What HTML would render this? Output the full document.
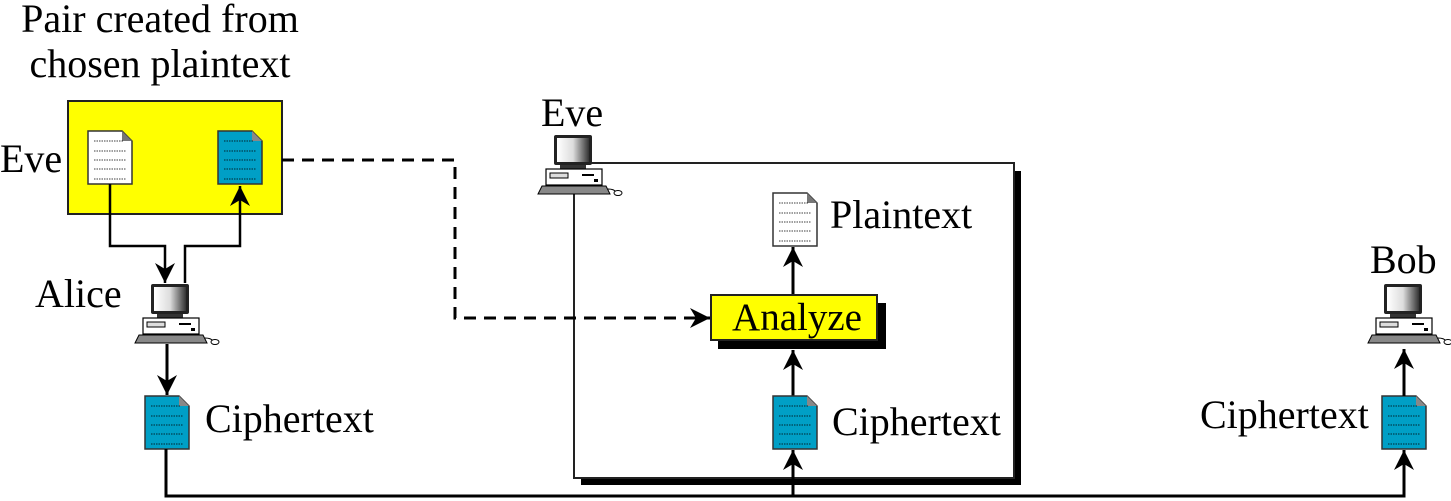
<!DOCTYPE html>
<html><head><meta charset="utf-8"><style>
html,body{margin:0;padding:0;background:#fff;}
svg{display:block;}
text{font-family:"Liberation Serif",serif;font-size:40px;fill:#000;}
</style></head><body>
<svg width="1451" height="501" viewBox="0 0 1451 501" xmlns="http://www.w3.org/2000/svg">
<defs>
<linearGradient id="scr" x1="0" x2="1"><stop offset="0" stop-color="#fff"/><stop offset="0.5" stop-color="#ddd"/><stop offset="1" stop-color="#333"/></linearGradient>
<g id="pc">
  <rect x="16" y="1" width="38" height="30" rx="2" fill="#222"/>
  <rect x="19" y="4" width="32" height="24" fill="url(#scr)"/>
  <rect x="22" y="31" width="26" height="4" fill="#333"/>
  <rect x="8" y="35" width="56" height="16" fill="#fff" stroke="#000" stroke-width="1.2"/>
  <rect x="12" y="39" width="18" height="5" fill="#ddd" stroke="#000" stroke-width="1"/>
  <rect x="44" y="40" width="12" height="2" fill="#000"/>
  <rect x="56" y="45" width="4" height="3" fill="#000"/>
  <polygon points="4,52 68,52 72,60 0,60" fill="#888" stroke="#000" stroke-width="1"/>
  <path d="M70,55 q6,0 8,3" fill="none" stroke="#000" stroke-width="1"/>
  <ellipse cx="80" cy="59" rx="4" ry="2.5" fill="#fff" stroke="#000" stroke-width="1"/>
</g>
<g id="docw">
  <path d="M0,0 H34 L44,10 V53 H0 Z" fill="#fff" stroke="#333" stroke-width="1.5"/>
  <path d="M34,0 V10 H44 Z" fill="#777"/>
  <g stroke="#000" stroke-width="0.8" stroke-dasharray="1.5,1">
    <line x1="6" y1="10" x2="36" y2="10"/><line x1="6" y1="20" x2="38" y2="20"/><line x1="6" y1="29" x2="38" y2="29"/><line x1="6" y1="38" x2="38" y2="38"/><line x1="6" y1="48" x2="38" y2="48"/>
  </g>
</g>
<g id="docb">
  <path d="M0,0 H34 L44,10 V53 H0 Z" fill="#009fc6" stroke="#333" stroke-width="1.5"/>
  <path d="M34,0 V10 H44 Z" fill="#888"/>
  <g stroke="#000" stroke-width="0.8" stroke-dasharray="1.5,1">
    <line x1="6" y1="10" x2="36" y2="10"/><line x1="6" y1="20" x2="38" y2="20"/><line x1="6" y1="29" x2="38" y2="29"/><line x1="6" y1="38" x2="38" y2="38"/><line x1="6" y1="48" x2="38" y2="48"/>
  </g>
</g>
<marker id="ah" viewBox="0 0 20 20" refX="20" refY="10" markerWidth="20" markerHeight="20" markerUnits="userSpaceOnUse" orient="auto">
  <path d="M0,0 L20,10 L0,20 L6,10 Z" fill="#000"/>
</marker>
</defs>

<!-- left yellow box -->
<text x="160" y="32" text-anchor="middle">Pair created from</text>
<text x="160" y="77" text-anchor="middle">chosen plaintext</text>
<rect x="68" y="101" width="214" height="113" fill="#ff0" stroke="#222" stroke-width="2"/>
<text x="0" y="172">Eve</text>
<use href="#docw" x="88" y="131"/>
<use href="#docb" x="218" y="131"/>
<polyline points="110,184 110,246 165,246 165,283" fill="none" stroke="#000" stroke-width="2.5" marker-end="url(#ah)"/>
<polyline points="185,283 185,246 240,246 240,186" fill="none" stroke="#000" stroke-width="2.5" marker-end="url(#ah)"/>
<text x="35" y="307">Alice</text>
<use href="#pc" x="135" y="283"/>
<line x1="167" y1="344" x2="167" y2="395" stroke="#000" stroke-width="3" marker-end="url(#ah)"/>
<use href="#docb" x="145" y="396"/>
<text x="205" y="432">Ciphertext</text>

<!-- Eve box -->
<rect x="581" y="171" width="440" height="314" fill="#000"/>
<rect x="574" y="163" width="440" height="315" fill="#fff" stroke="#222" stroke-width="2"/>

<!-- dashed -->
<polyline points="282,160 455,160 455,318 710,318" fill="none" stroke="#000" stroke-width="3" stroke-dasharray="12,8" marker-end="url(#ah)"/>

<text x="541" y="126">Eve</text>
<use href="#pc" x="538" y="134"/>
<line x1="574" y1="196" x2="574" y2="240" stroke="#222" stroke-width="2"/>
<use href="#docw" x="773" y="193"/>
<text x="830" y="228">Plaintext</text>
<line x1="793" y1="295" x2="793" y2="247" stroke="#000" stroke-width="3" marker-end="url(#ah)"/>
<rect x="718" y="303" width="168" height="46" fill="#000"/>
<rect x="711" y="295" width="166" height="45" fill="#ff0" stroke="#222" stroke-width="2"/>
<text x="797" y="330" text-anchor="middle" style="font-size:39px">Analyze</text>
<line x1="793" y1="396" x2="793" y2="350" stroke="#000" stroke-width="3" marker-end="url(#ah)"/>
<use href="#docb" x="773" y="396"/>
<text x="832" y="435">Ciphertext</text>
<line x1="793" y1="496" x2="793" y2="450" stroke="#000" stroke-width="3" marker-end="url(#ah)"/>

<!-- bottom line -->
<polyline points="166,449 166,496 1404,496 1404,450" fill="none" stroke="#000" stroke-width="3" marker-end="url(#ah)"/>

<!-- Bob -->
<text x="1370" y="273">Bob</text>
<use href="#pc" x="1368" y="283"/>
<use href="#docb" x="1382" y="396"/>
<text x="1200" y="428">Ciphertext</text>
<line x1="1404" y1="396" x2="1404" y2="349" stroke="#000" stroke-width="3" marker-end="url(#ah)"/>
</svg>
</body></html>
